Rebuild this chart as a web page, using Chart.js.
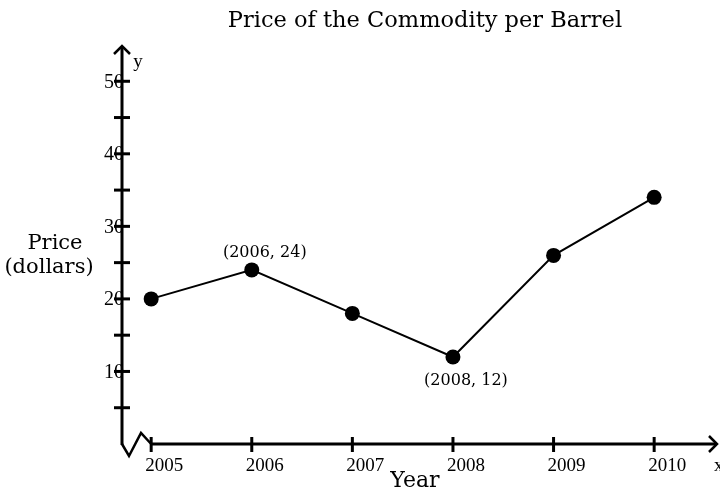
<!DOCTYPE html>
<html>
<head>
<meta charset="utf-8">
<script src="https://cdn.jsdelivr.net/npm/chart.js@4/dist/chart.umd.min.js"></script>
<style>
  html, body { margin: 0; padding: 0; background: #fff; }
  canvas { display: block; }
</style>
</head>
<body>
<canvas id="priceChart" width="720" height="495"></canvas>
<script>
// price per barrel, one point per year
const years = [2005, 2006, 2007, 2008, 2009, 2010];
const prices = [20, 24, 18, 12, 26, 34];

// tick marks on the price axis, labels only every 10
const yTicks = [5, 10, 15, 20, 25, 30, 35, 40, 45, 50];
const yTickLabels = [10, 20, 30, 40, 50];

// points that get their coordinates written next to them
const callouts = [
    { year: 2006, price: 24, text: '(2006, 24)', pos: 'above' },
    { year: 2008, price: 12, text: '(2008, 12)', pos: 'below' }
];

const SERIF = '"Liberation Serif", "Times New Roman", serif';
const WIDE_SERIF = '"DejaVu Serif", serif';

// axes with arrows, ticks and the broken-axis zigzag at the origin
const axesPlugin = {
    id: 'axes',
    beforeDatasetsDraw(chart) {
        const ctx = chart.ctx;
        const xs = chart.scales.x, ys = chart.scales.y;
        const left = chart.chartArea.left;
        const top = chart.chartArea.top;
        const right = chart.width - 2;
        const base = ys.getPixelForValue(0);
        const xStart = xs.getPixelForValue(years[0]);

        ctx.save();
        ctx.strokeStyle = '#000';
        ctx.lineCap = 'butt';

        // y axis
        ctx.lineWidth = 3;
        ctx.beginPath();
        ctx.moveTo(left, base + 1);
        ctx.lineTo(left, top + 2);
        ctx.stroke();
        ctx.lineWidth = 2.5;
        ctx.beginPath();
        ctx.moveTo(left - 8, top + 9);
        ctx.lineTo(left, top + 1);
        ctx.lineTo(left + 8, top + 9);
        ctx.stroke();

        // x axis
        ctx.lineWidth = 3;
        ctx.beginPath();
        ctx.moveTo(xStart, base);
        ctx.lineTo(right - 1, base);
        ctx.stroke();
        ctx.lineWidth = 2.5;
        ctx.beginPath();
        ctx.moveTo(right - 9, base - 8);
        ctx.lineTo(right - 1, base);
        ctx.lineTo(right - 9, base + 8);
        ctx.stroke();

        // zigzag break
        ctx.lineWidth = 2.5;
        ctx.lineJoin = 'miter';
        ctx.beginPath();
        ctx.moveTo(left, base);
        ctx.lineTo(left + 7, base + 12);
        ctx.lineTo(left + 19, base - 11);
        ctx.lineTo(xStart, base);
        ctx.stroke();

        // ticks
        ctx.lineWidth = 3;
        yTicks.forEach(v => {
            const py = ys.getPixelForValue(v);
            ctx.beginPath();
            ctx.moveTo(left - 8, py);
            ctx.lineTo(left + 8, py);
            ctx.stroke();
        });
        years.forEach(yr => {
            const px = xs.getPixelForValue(yr);
            ctx.beginPath();
            ctx.moveTo(px, base - 7);
            ctx.lineTo(px, base + 8);
            ctx.stroke();
        });

        // tick labels
        ctx.fillStyle = '#000';
        ctx.font = '20px ' + SERIF;
        ctx.textAlign = 'right';
        ctx.textBaseline = 'middle';
        yTickLabels.forEach(v => {
            ctx.fillText(String(v), left + 2, ys.getPixelForValue(v) + 1);
        });
        ctx.font = '19px ' + SERIF;
        ctx.textAlign = 'center';
        ctx.textBaseline = 'alphabetic';
        years.forEach(yr => {
            ctx.fillText(String(yr), xs.getPixelForValue(yr) + 13, base + 27);
        });

        // axis letters
        ctx.textAlign = 'center';
        ctx.fillText('y', left + 16, top + 22);
        ctx.textAlign = 'left';
        ctx.fillText('x', right - 4, base + 27);
        ctx.restore();
    },
    afterDraw(chart) {
        const ctx = chart.ctx;
        const xs = chart.scales.x, ys = chart.scales.y;
        ctx.save();
        ctx.fillStyle = '#000';
        ctx.textAlign = 'center';
        ctx.textBaseline = 'alphabetic';

        ctx.font = '22.5px ' + WIDE_SERIF;
        ctx.fillText('Price of the Commodity per Barrel', 425, 27);
        ctx.font = '22px ' + WIDE_SERIF;
        ctx.fillText('Year', 415, 487);

        ctx.font = '21px ' + WIDE_SERIF;
        ctx.fillText('Price', 55, 249);
        ctx.fillText('(dollars)', 49, 273);

        ctx.font = '16px ' + WIDE_SERIF;
        ctx.textBaseline = 'middle';
        callouts.forEach(c => {
            const px = xs.getPixelForValue(c.year) + 13;
            const py = ys.getPixelForValue(c.price) + (c.pos === 'above' ? -17 : 24);
            ctx.fillText(c.text, px, py);
        });
        ctx.restore();
    }
};

new Chart(document.getElementById('priceChart'), {
    type: 'line',
    data: {
        datasets: [{
            data: years.map((yr, i) => ({ x: yr, y: prices[i] })),
            borderColor: '#000',
            borderWidth: 2,
            backgroundColor: '#000',
            pointRadius: 7.5,
            pointBackgroundColor: '#000',
            pointBorderWidth: 0,
            tension: 0,
            clip: false
        }]
    },
    options: {
        responsive: false,
        animation: false,
        devicePixelRatio: 1,
        layout: { padding: { left: 122, right: 8, top: 45, bottom: 51 } },
        plugins: { legend: { display: false }, tooltip: { enabled: false }, title: { display: false } },
        scales: {
            x: { type: 'linear', min: 2004.71, max: 2010.575, display: false },
            y: { type: 'linear', min: 0, max: 55, display: false }
        }
    },
    plugins: [axesPlugin]
});
</script>
</body>
</html>
